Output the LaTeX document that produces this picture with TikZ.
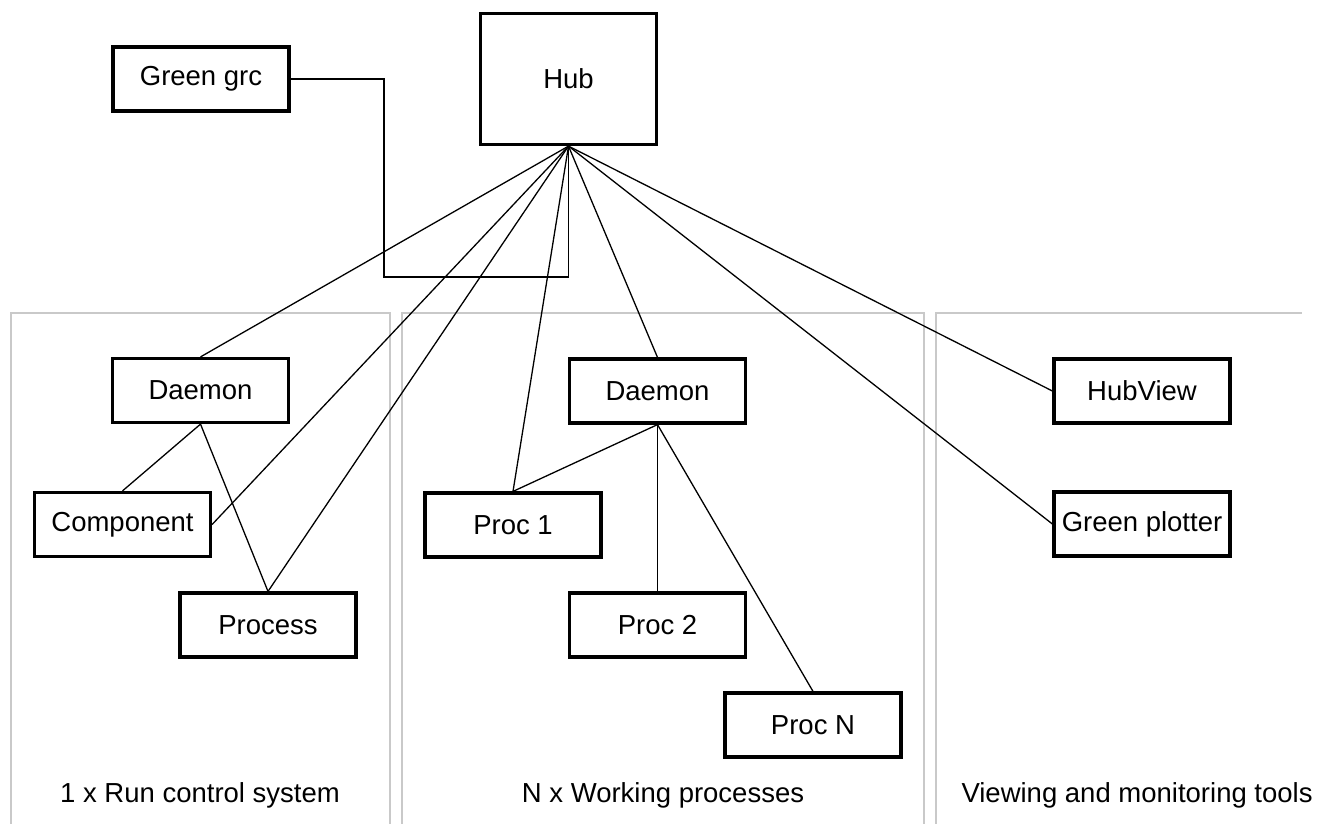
\documentclass[tikz,border=0pt]{standalone}
\usepackage{fontspec}
\setmainfont{Liberation Sans}
\usetikzlibrary{positioning}
\definecolor{panelgray}{rgb}{0.79,0.79,0.79}

\begin{document}
\begin{tikzpicture}[x=1pt,y=-1pt,
    box/.style={draw, line width=3.2pt, minimum width=176pt, minimum height=64pt,
        inner sep=0pt, font=\fontsize{27.5}{33}\selectfont},
    link/.style={line width=1.3pt},
    panel/.style={draw=panelgray, line width=1.6pt},
    caption/.style={font=\fontsize{27.5}{33}\selectfont}]

    \useasboundingbox (0,0) rectangle (1317,823);
    \clip (0,0) rectangle (1317,823);

    % =====================
    % Panels
    % =====================
    \draw[panel] (11,313) rectangle (390,840);
    \draw[panel] (402,313) rectangle (924,840);
    \draw[panel] (936,840) |- (1302,313);

    \node[caption] (runcap) at (200,795) {1 x Run control system};
    \node[caption] (workcap) at (663,795) {N x Working processes};
    \node[caption, anchor=west] (viewcap) at (958,795) {Viewing and monitoring tools};

    % =====================
    % Top row
    % =====================
    \node[box, minimum height=131pt] (hub) at (568.5,79) {Hub};
    \node[box] (grc) at (201,79) {Green grc};

    % =====================
    % Run control system
    % =====================
    \node[box] (daemonA) at (200.5,390.5) {Daemon};
    \node[box] (comp) at (122.5,524.5) {Component};
    \node[box] (proc) at (268,625) {Process};

    % =====================
    % Working processes
    % =====================
    \node[box] (daemonB) at (657.5,391) {Daemon};
    \node[box] (procA) at (513,525) {Proc 1};
    \node[box] (procB) at (657.5,625) {Proc 2};
    \node[box] (procN) at (813,725) {Proc N};

    % =====================
    % Viewing tools
    % =====================
    \node[box] (hubview) at (1142,391) {HubView};
    \node[box] (plotter) at (1142,524) {Green plotter};

    % =====================
    % Connections
    % =====================
    \coordinate (bend) at (384,277);
    \draw[link] (grc.east) -| (bend) -| (hub.south);

    \foreach \target in {daemonA.north, comp.east, proc.north, procA.north,
        daemonB.north, plotter.west, hubview.west}
        \draw[link] (hub.south) -- (\target);

    \foreach \target in {comp, proc}
        \draw[link] (daemonA.south) -- (\target.north);

    \foreach \target in {procA, procB, procN}
        \draw[link] (daemonB.south) -- (\target.north);

\end{tikzpicture}
\end{document}
